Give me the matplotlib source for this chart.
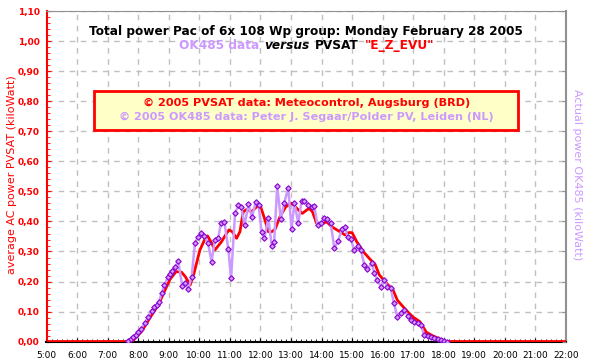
import matplotlib
matplotlib.use("Agg")
import matplotlib.pyplot as plt
from matplotlib.patches import Rectangle
from matplotlib.ticker import MultipleLocator, FuncFormatter
from matplotlib.offsetbox import TextArea, HPacker, AnnotationBbox

# OK485 measured data (hour of day, kW)
ok_t = [7.66, 7.75, 7.84, 7.92, 8.00, 8.09, 8.22, 8.33, 8.44, 8.53, 8.61, 8.68,
        8.77, 8.86, 8.97, 9.04, 9.12, 9.20, 9.31, 9.44, 9.53, 9.64, 9.75, 9.86,
        9.95, 10.06, 10.16, 10.29, 10.40, 10.51, 10.62, 10.71, 10.82, 10.95,
        11.04, 11.17, 11.28, 11.37, 11.48, 11.61, 11.72, 11.85, 11.94, 12.04,
        12.13, 12.26, 12.37, 12.45, 12.55, 12.67, 12.78, 12.91, 13.02, 13.11,
        13.24, 13.35, 13.44, 13.57, 13.68, 13.76, 13.87, 13.98, 14.09, 14.19,
        14.30, 14.42, 14.55, 14.66, 14.77, 14.85, 14.96, 15.07, 15.18, 15.29,
        15.40, 15.50, 15.64, 15.73, 15.83, 15.94, 16.06, 16.15, 16.26, 16.37,
        16.48, 16.59, 16.71, 16.82, 16.93, 17.04, 17.15, 17.25, 17.36, 17.47,
        17.58, 17.69, 17.80, 17.91, 18.02, 18.11]
ok_kw = [0.003, 0.008, 0.016, 0.022, 0.033, 0.042, 0.063, 0.083, 0.103, 0.114, 0.122, 0.131,
         0.163, 0.188, 0.214, 0.225, 0.236, 0.247, 0.268, 0.186, 0.194, 0.175, 0.216, 0.329,
         0.347, 0.361, 0.353, 0.327, 0.266, 0.338, 0.346, 0.394, 0.399, 0.308,
         0.211, 0.427, 0.455, 0.449, 0.388, 0.457, 0.414, 0.466, 0.455, 0.364,
         0.344, 0.411, 0.318, 0.333, 0.518, 0.407, 0.463, 0.511, 0.374, 0.461,
         0.396, 0.469, 0.469, 0.455, 0.449, 0.452, 0.388, 0.394, 0.411, 0.407,
         0.394, 0.311, 0.336, 0.374, 0.381, 0.349, 0.341, 0.305, 0.318, 0.305,
         0.255, 0.241, 0.261, 0.227, 0.205, 0.183, 0.205, 0.183, 0.180, 0.127,
         0.083, 0.096, 0.105, 0.086, 0.072, 0.064, 0.061, 0.055, 0.022, 0.019,
         0.014, 0.011, 0.008, 0.005, 0.002, 0.000]

# PVSAT computed average (hour of day, kW)
pv_t = [5.0, 7.80, 8.11, 8.44, 8.66, 8.88, 9.04, 9.24, 9.42, 9.55, 9.70, 9.82,
        10.02, 10.19, 10.27, 10.41, 10.51, 10.73, 10.84, 10.97, 11.08, 11.22,
        11.33, 11.44, 11.55, 11.71, 11.88, 11.99, 12.15, 12.26, 12.37, 12.48,
        12.64, 12.83, 13.02, 13.19, 13.37, 13.59, 13.70, 13.84, 14.00, 14.17,
        14.33, 14.60, 14.77, 14.88, 15.00, 15.15, 15.37, 15.59, 15.75, 15.89,
        16.04, 16.18, 16.33, 16.48, 16.65, 16.82, 17.00, 17.22, 17.32, 17.43,
        17.60, 17.77, 18.04, 22.0]
pv_kw = [0, 0, 0.033, 0.088, 0.122, 0.172, 0.207, 0.233, 0.231, 0.215, 0.188, 0.225,
         0.305, 0.343, 0.352, 0.327, 0.305, 0.333, 0.352, 0.372, 0.366, 0.344,
         0.366, 0.433, 0.440, 0.433, 0.449, 0.455, 0.405, 0.366, 0.366, 0.374,
         0.416, 0.449, 0.461, 0.444, 0.427, 0.444, 0.433, 0.394, 0.392, 0.399,
         0.383, 0.366, 0.355, 0.363, 0.363, 0.333, 0.299, 0.274, 0.258, 0.222,
         0.205, 0.188, 0.174, 0.138, 0.118, 0.099, 0.081, 0.066, 0.049, 0.031,
         0.021, 0.013, 0, 0]

hour_labels = ["%d:00" % h for h in range(5, 23)]

RED = "#ff0000"
LAV = "#cc99ff"
NARROW = ["Liberation Sans Narrow", "DejaVu Sans"]

fig = plt.figure(figsize=(5.91, 3.61), dpi=100)
ax = fig.add_axes([46.5 / 591, 1 - 341.5 / 361, (566 - 46.5) / 591, 330 / 361])

ax.plot(pv_t, pv_kw, color=RED, lw=2, zorder=3)
ax.plot(ok_t, ok_kw, color=LAV, lw=1.8, marker="D", ms=2.8, mfc=LAV,
        mec="#8800cc", mew=0.8, zorder=4)

ax.set_xlim(5, 22)
ax.set_ylim(0, 1.10)
ax.set_xticks(range(5, 23))
ax.set_xticklabels(hour_labels, fontsize=6.5, family=NARROW)
ax.xaxis.set_minor_locator(MultipleLocator(1 / 6))
ax.yaxis.set_major_locator(MultipleLocator(0.1))
ax.yaxis.set_minor_locator(MultipleLocator(0.02))
ax.yaxis.set_major_formatter(FuncFormatter(lambda v, p: ("%.2f" % v).replace(".", ",")))
ax.tick_params(axis="y", which="both", colors=RED, labelsize=6.5, direction="in")
ax.tick_params(axis="y", which="major", length=3, pad=5)
ax.tick_params(axis="y", which="minor", length=2)
ax.tick_params(axis="x", which="both", direction="in", colors="black")
ax.tick_params(axis="x", which="major", length=3, pad=7)
ax.tick_params(axis="x", which="minor", length=2)
for lab in ax.get_yticklabels():
    lab.set_family(NARROW)
    lab.set_fontweight("bold")

ax.grid(True, which="major", color="#c0c0c0", ls=(0, (4, 4)), lw=1)
ax.spines["left"].set_color(RED)
ax.spines["left"].set_linewidth(1.5)
ax.spines["bottom"].set_color("black")
ax.spines["bottom"].set_linewidth(1.5)
ax.spines["top"].set_color("#909090")
ax.spines["right"].set_color("#909090")
ax.spines["right"].set_linewidth(1.5)

# grey ticks on the right axis
ax2 = ax.twinx()
ax2.set_ylim(0, 1.10)
ax2.yaxis.set_major_locator(MultipleLocator(0.1))
ax2.tick_params(axis="y", colors="#909090", direction="in", length=3, labelright=False)
for s in ax2.spines.values():
    s.set_visible(False)

fig.text(12 / 591, 0.515, "average AC power PVSAT (kiloWatt)", rotation=90,
         color=RED, fontsize=8, ha="center", va="center")
fig.text(577 / 591, 0.515, "Actual power OK485 (kiloWatt)", rotation=270,
         color=LAV, fontsize=8, ha="center", va="center")

ax.text(0.5, 1 - (32 - 11.5) / 330, "Total power Pac of 6x 108 Wp group: Monday February 28 2005",
        transform=ax.transAxes, ha="center", va="center", fontsize=8.7,
        fontweight="bold", color="black")

tp = dict(fontsize=8.7, fontweight="bold")
pieces = [TextArea("OK485 data", textprops=dict(color=LAV, **tp)),
          TextArea("versus", textprops=dict(color="black", style="italic", **tp)),
          TextArea("PVSAT", textprops=dict(color="black", **tp)),
          TextArea('"E_Z_EVU"', textprops=dict(color=RED, **tp))]
row = HPacker(children=pieces, align="baseline", pad=0, sep=4)
ax.add_artist(AnnotationBbox(row, (0.5, 1 - (46 - 11.5) / 330), xycoords="axes fraction",
                             frameon=False, box_alignment=(0.5, 0.5)))

# copyright box
box_x0 = (94 - 46.5) / 519.5
box_x1 = (518 - 46.5) / 519.5
box_y0 = 1 - (130 - 11.5) / 330
box_y1 = 1 - (91 - 11.5) / 330
ax.add_patch(Rectangle((box_x0, box_y0), box_x1 - box_x0, box_y1 - box_y0,
                       transform=ax.transAxes, fc="#ffffc8", ec=RED, lw=2, zorder=5))
ax.text(0.5, 1 - (103 - 11.5) / 330, "\u00a9 2005 PVSAT data: Meteocontrol, Augsburg (BRD)",
        transform=ax.transAxes, ha="center", va="center", fontsize=8.1,
        fontweight="bold", color=RED, zorder=6)
ax.text(0.5, 1 - (117 - 11.5) / 330, "\u00a9 2005 OK485 data: Peter J. Segaar/Polder PV, Leiden (NL)",
        transform=ax.transAxes, ha="center", va="center", fontsize=8.1,
        fontweight="bold", color=LAV, zorder=6)

fig.savefig("out.png", dpi=100, facecolor="white")
